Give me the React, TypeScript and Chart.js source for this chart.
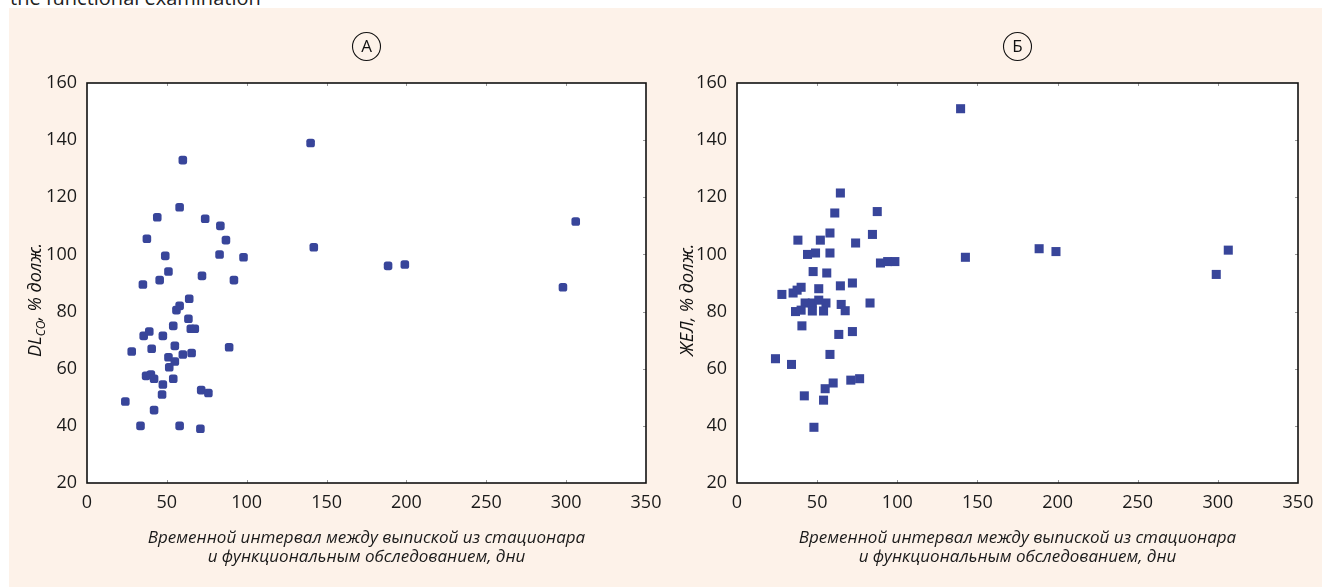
import React, { useEffect, useRef } from 'react';
import { Chart, registerables } from 'chart.js';

Chart.register(...registerables);

// Panel A: DLco vs days
const dlcoDays = [140, 60, 58, 44, 74, 83.5, 37.5, 87, 142, 49, 83, 98, 51, 72, 45.5, 92, 35, 188.5, 199, 306, 298, 64, 58, 56, 54, 63.5, 65, 67.5, 39, 35.5, 47.5, 28, 40.5, 55, 89, 51, 60, 65.5, 55, 51.5, 37, 40, 42, 54, 47.5, 47, 71.5, 76, 24, 42, 33.5, 58, 71];
const dlcoValues = [139, 133, 116.5, 113, 112.5, 110, 105.5, 105, 102.5, 99.5, 100, 99, 94, 92.5, 91, 91, 89.5, 96, 96.5, 111.5, 88.5, 84.5, 82, 80.5, 75, 77.5, 74, 74, 73, 71.5, 71.5, 66, 67, 68, 67.5, 64, 65, 65.5, 62.5, 60.5, 57.5, 58, 56.5, 56.5, 54.5, 51, 52.5, 51.5, 48.5, 45.5, 40, 40, 39];

// Panel Б: VC vs days
const vcDays = [139.5, 64.5, 61, 87.5, 58, 84.5, 38, 52, 74, 44, 49, 58, 142.5, 89.5, 94, 98.5, 47.5, 56, 28, 35, 37.5, 40, 51, 64.5, 72, 83, 42.5, 47, 51, 55.5, 36.5, 40, 47, 54, 65, 67.5, 40.5, 63.5, 72, 58, 24, 34, 60, 55, 71, 76.5, 42, 54, 48, 188.5, 199, 306.5, 299];
const vcValues = [151, 121.5, 114.5, 115, 107.5, 107, 105, 105, 104, 100, 100.5, 100.5, 99, 97, 97.5, 97.5, 94, 93.5, 86, 86.5, 87.5, 88.5, 88, 89, 90, 83, 83, 83, 84, 83, 80, 80.5, 80.2, 80.2, 82.5, 80.3, 75, 72, 73, 65, 63.5, 61.5, 55, 53, 56, 56.5, 50.5, 49, 39.5, 102, 101, 101.5, 93];

const xTicks = [0, 50, 100, 150, 200, 250, 300, 350];
const yTicks = [20, 40, 60, 80, 100, 120, 140, 160];

const xTitle = ['Временной интервал между выпиской из стационара', 'и функциональным обследованием, дни'];
const titleA = [{ t: 'DL', sub: false }, { t: 'CO', sub: true }, { t: ', % долж.', sub: false }];
const titleB = [{ t: 'ЖЕЛ, % долж.', sub: false }];

const FONT = '"Open Sans", "Noto Sans", sans-serif';
const POINT_COLOR = '#38459a';

const decorPlugin = {
  id: 'decor',
  beforeDraw(chart: any) {
    const { ctx, chartArea: a } = chart;
    ctx.save();
    ctx.fillStyle = '#ffffff';
    ctx.fillRect(a.left, a.top, a.right - a.left, a.bottom - a.top);
    ctx.restore();
  },
  afterDraw(chart: any, _args: any, opts: any) {
    const { ctx, chartArea: a, scales } = chart;
    const xs = scales.x;
    const ys = scales.y;
    ctx.save();
    // small inward tick marks
    ctx.strokeStyle = '#9a9a9a';
    ctx.lineWidth = 1;
    ctx.beginPath();
    xTicks.forEach((v) => {
      if (v === xTicks[0] || v === xTicks[xTicks.length - 1]) return;
      const px = Math.round(xs.getPixelForValue(v)) + 0.5;
      ctx.moveTo(px, a.top); ctx.lineTo(px, a.top + 3);
      ctx.moveTo(px, a.bottom); ctx.lineTo(px, a.bottom - 3);
    });
    yTicks.forEach((v) => {
      if (v === yTicks[0] || v === yTicks[yTicks.length - 1]) return;
      const py = Math.round(ys.getPixelForValue(v)) + 0.5;
      ctx.moveTo(a.right, py); ctx.lineTo(a.right - 3, py);
    });
    ctx.stroke();
    // frame
    ctx.strokeStyle = '#111111';
    ctx.lineWidth = 1.6;
    ctx.strokeRect(a.left, a.top, a.right - a.left, a.bottom - a.top);
    // circled letter
    const cx = (a.left + a.right) / 2;
    const cy = opts.circleY;
    ctx.lineWidth = 1.1;
    ctx.strokeStyle = '#111';
    ctx.beginPath();
    ctx.arc(cx, cy, 14, 0, Math.PI * 2);
    ctx.stroke();
    ctx.fillStyle = '#111';
    ctx.font = `17px ${FONT}`;
    ctx.textAlign = 'center';
    ctx.textBaseline = 'middle';
    ctx.fillText(opts.letter, cx, cy + 0.5);
    // rotated y title with optional subscript
    const parts = opts.yTitle as { t: string; sub: boolean }[];
    const mainFont = `italic 18px ${FONT}`;
    const subFont = `italic 12px ${FONT}`;
    let total = 0;
    const widths = parts.map((p) => {
      ctx.font = p.sub ? subFont : mainFont;
      const w = ctx.measureText(p.t).width;
      total += w;
      return w;
    });
    ctx.translate(opts.yTitleX, opts.yTitleY);
    ctx.rotate(-Math.PI / 2);
    ctx.textAlign = 'left';
    ctx.textBaseline = 'alphabetic';
    let x = -total / 2;
    parts.forEach((p, i) => {
      ctx.font = p.sub ? subFont : mainFont;
      ctx.fillText(p.t, x, p.sub ? 4 : 0);
      x += widths[i];
    });
    ctx.restore();
  },
};

function makeConfig(days: number[], values: number[], style: string, radius: number, letter: string, yTitle: any, yTitleX: number, padRight: number, yWidth: number) {
  const data = days.map((d, i) => ({ x: d, y: values[i] }));
  return {
    type: 'scatter' as const,
    data: {
      datasets: [
        {
          data,
          pointStyle: style,
          pointRadius: radius,
          pointHoverRadius: radius,
          backgroundColor: POINT_COLOR,
          borderColor: POINT_COLOR,
          borderWidth: 0,
        },
      ],
    },
    options: {
      animation: false,
      responsive: false,
      devicePixelRatio: 1,
      events: [],
      layout: { padding: { left: 0, right: padRight, top: 75, bottom: 0 } },
      plugins: {
        legend: { display: false },
        tooltip: { enabled: false },
        decor: { letter, yTitle, yTitleX, yTitleY: 292, circleY: 38.5 },
      },
      scales: {
        x: {
          type: 'linear',
          min: 0,
          max: 350,
          afterBuildTicks: (s: any) => { s.ticks = xTicks.map((v) => ({ value: v })); },
          afterFit: (s: any) => { s.height = 104; s.paddingLeft = 0; s.paddingRight = 0; },
          grid: { display: false, drawTicks: false },
          border: { display: false },
          ticks: { padding: 9, color: '#1a1a1a', font: { family: FONT, size: 18 }, maxRotation: 0, autoSkip: false },
          title: {
            display: true,
            text: xTitle,
            color: '#1a1a1a',
            font: { family: FONT, size: 17, style: 'italic', lineHeight: 1.13 },
            padding: { top: 0, bottom: 20 },
          },
        },
        y: {
          type: 'linear',
          min: 20,
          max: 160,
          afterBuildTicks: (s: any) => { s.ticks = yTicks.map((v) => ({ value: v })); },
          afterFit: (s: any) => { s.width = yWidth; s.paddingTop = 0; s.paddingBottom = 0; },
          grid: { display: false, drawTicks: false },
          border: { display: false },
          ticks: { padding: 10, color: '#1a1a1a', font: { family: FONT, size: 18 }, autoSkip: false },
        },
      },
    },
    plugins: [decorPlugin],
  };
}

function ScatterPanel(props: { left: number; width: number; cfg: () => any }) {
  const ref = useRef<HTMLCanvasElement | null>(null);
  useEffect(() => {
    if (!ref.current) return;
    const chart = new Chart(ref.current, props.cfg());
    return () => chart.destroy();
  }, []);
  return (
    <canvas
      ref={ref}
      width={props.width}
      height={579}
      style={{ position: 'absolute', left: props.left, top: 8, width: props.width, height: 579 }}
    />
  );
}

export default function App() {
  return (
    <div style={{ position: 'absolute', left: 0, top: 0, width: 1322, height: 587, overflow: 'hidden', background: '#ffffff' }}>
      <div
        style={{
          position: 'absolute', left: 10, top: -12, fontFamily: FONT, fontSize: 20, lineHeight: '20px',
          color: '#222', whiteSpace: 'nowrap',
        }}
      >
        the functional examination
      </div>
      <div style={{ position: 'absolute', left: 9, top: 8, width: 1313, height: 579, background: '#fdf2e9' }} />
      <ScatterPanel
        left={9}
        width={656}
        cfg={() => makeConfig(dlcoDays, dlcoValues, 'rectRounded', 5, 'А', titleA, 32, 19, 78)}
      />
      <ScatterPanel
        left={665}
        width={657}
        cfg={() => makeConfig(vcDays, vcValues, 'rect', 6.4, 'Б', titleB, 28, 24, 72)}
      />
    </div>
  );
}
